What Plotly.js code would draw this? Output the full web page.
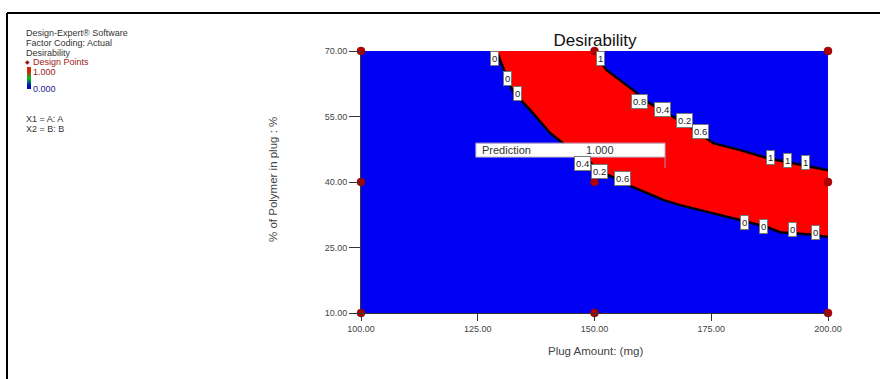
<!DOCTYPE html>
<html>
<head>
<meta charset="utf-8">
<script src="https://cdn.plot.ly/plotly-3.0.1.min.js"></script>
<style>
html,body{margin:0;padding:0;background:#fff;}
#chart{width:880px;height:379px;}
</style>
</head>
<body>
<div id="chart"></div>
<script>
// ---- data ----
const designX = [100, 150, 200, 100, 150, 200, 100, 150, 200];
const designY = [70, 70, 70, 40, 40, 40, 10, 10, 10];

// lower edge of the desirable (red) band
const lowerX = [129.1, 129.8, 132.5, 136.2, 140.5, 143.7, 147.5, 151.2, 154.0, 157.6, 161.2, 164.7, 168.3, 175.4, 181.2, 186.9, 189.7, 196.8, 200];
const lowerY = [70, 67.9, 60.7, 56.5, 51.2, 48.5, 46.2, 42.3, 41.1, 39.1, 37.5, 35.9, 34.7, 32.9, 31.3, 29.7, 28.5, 27.9, 27.4];

// upper edge of the desirable (red) band
const upperX = [150.7, 151.5, 152.6, 154.0, 156.1, 158.7, 161.2, 165.5, 170.4, 175.4, 181.2, 186.9, 192.5, 196.8, 200];
const upperY = [70, 67.2, 65.6, 64.5, 62.7, 60.7, 58.4, 55.8, 52.7, 48.9, 47.3, 45.5, 44.4, 43.4, 42.7];

// contour labels
const labelText = ["0", "0", "0", "0.4", "0.2", "0.6", "0", "0", "0", "0", "1", "0.8", "0.4", "0.2", "0.6", "1", "1", "1"];
const labelX = [128.5, 131.3, 133.6, 147.5, 151.0, 155.9, 182.2, 186.1, 192.3, 197.4, 151.2, 159.7, 164.5, 169.2, 172.6, 187.6, 191.4, 195.1];
const labelY = [68.2, 63.8, 60.2, 44.2, 42.5, 40.9, 30.8, 29.9, 29.2, 28.5, 68.2, 58.5, 56.5, 54.0, 51.5, 45.7, 45.0, 44.4];

const xTicks = [100, 125, 150, 175, 200];
const yTicks = [10, 25, 40, 55, 70];

const predictionX = 165.1;
const predictionY = 43.2;
const predictionValue = "1.000";

const legendLines = ["Design-Expert\u00ae Software", "Factor Coding: Actual", "Desirability"];
const factorLines = ["X1 = A: A", "X2 = B: B"];

// ---- helpers: pixel -> paper (margins are zero) ----
const W = 880, H = 379;
const px = v => v / W;
const py = v => 1 - v / H;
const FONT = "Liberation Sans, Arial, sans-serif";

const bandX = lowerX.concat(upperX.slice().reverse());
const bandY = lowerY.concat(upperY.slice().reverse());

const traces = [
  {
    type: "scatter", mode: "lines", x: bandX, y: bandY,
    fill: "toself", fillcolor: "#FF0000", line: {width: 0},
    hoverinfo: "skip", showlegend: false
  },
  {
    type: "scatter", mode: "lines", x: lowerX, y: lowerY,
    line: {color: "#000000", width: 2.5}, showlegend: false, hoverinfo: "skip"
  },
  {
    type: "scatter", mode: "lines", x: upperX, y: upperY,
    line: {color: "#000000", width: 2.5}, showlegend: false, hoverinfo: "skip"
  },
  {
    type: "scatter", mode: "markers", x: designX, y: designY,
    marker: {symbol: "circle", size: 8, color: "#B00000", line: {color: "#800000", width: 0.5}},
    cliponaxis: false, showlegend: false
  },
  {
    type: "heatmap", xaxis: "x2", yaxis: "y2",
    z: [[0], [0.5], [1]], x: [0], y: [0, 1, 2],
    colorscale: [[0, "#0010B8"], [0.5, "#00C020"], [1, "#D02800"]],
    zsmooth: "best", showscale: false, hoverinfo: "skip"
  }
];

const annotations = [];
labelText.forEach((t, i) => {
  annotations.push({
    x: labelX[i], y: labelY[i], xref: "x", yref: "y", text: t, showarrow: false,
    font: {family: FONT, size: 9.5, color: "#222"},
    bgcolor: "#FFFFFF", bordercolor: "#777", borderwidth: 1, borderpad: 1
  });
});
legendLines.forEach((t, i) => {
  annotations.push({
    x: px(24), y: py(33.5 + i * 9.5), xref: "paper", yref: "paper", text: t,
    showarrow: false, xanchor: "left", yanchor: "middle",
    font: {family: FONT, size: 9, color: "#333"}
  });
});
annotations.push({x: px(27), y: py(62), xref: "paper", yref: "paper", text: "\u25c6", showarrow: false,
  xanchor: "center", yanchor: "middle", font: {family: "DejaVu Sans", size: 6, color: "#A01010"}});
annotations.push({x: px(31), y: py(62), xref: "paper", yref: "paper", text: "Design Points", showarrow: false,
  xanchor: "left", yanchor: "middle", font: {family: FONT, size: 9, color: "#A02020"}});
annotations.push({x: px(31), y: py(71.5), xref: "paper", yref: "paper", text: "1.000", showarrow: false,
  xanchor: "left", yanchor: "middle", font: {family: FONT, size: 9, color: "#A02020"}});
annotations.push({x: px(31), y: py(89), xref: "paper", yref: "paper", text: "0.000", showarrow: false,
  xanchor: "left", yanchor: "middle", font: {family: FONT, size: 9, color: "#202090"}});
factorLines.forEach((t, i) => {
  annotations.push({
    x: px(24), y: py(119 + i * 9.5), xref: "paper", yref: "paper", text: t,
    showarrow: false, xanchor: "left", yanchor: "middle",
    font: {family: FONT, size: 9, color: "#333"}
  });
});
// axis titles
annotations.push({x: px(595), y: py(351), xref: "paper", yref: "paper", text: "Plug Amount: (mg)",
  showarrow: false, xanchor: "center", yanchor: "middle", font: {family: FONT, size: 11.5, color: "#444"}});
annotations.push({x: px(273), y: py(180), xref: "paper", yref: "paper", text: "% of Polymer in plug : %",
  showarrow: false, textangle: -90, xanchor: "center", yanchor: "middle", font: {family: FONT, size: 11.5, color: "#444"}});
// prediction flag text
annotations.push({x: 125.5, y: 47.3, xref: "x", yref: "y", text: "Prediction", showarrow: false,
  xanchor: "left", yanchor: "middle", font: {family: FONT, size: 11, color: "#333"}});
annotations.push({x: 147.8, y: 47.3, xref: "x", yref: "y", text: predictionValue, showarrow: false,
  xanchor: "left", yanchor: "middle", font: {family: FONT, size: 11, color: "#333"}});

const shapes = [
  // outer frame (top and left)
  {type: "line", xref: "paper", yref: "paper", x0: px(7), x1: 1, y0: py(13), y1: py(13), line: {color: "#000", width: 2}},
  {type: "line", xref: "paper", yref: "paper", x0: px(7), x1: px(7), y0: py(13), y1: 0, line: {color: "#000", width: 2}},
  // prediction box + flag pole
  {type: "rect", xref: "x", yref: "y", x0: 124.6, x1: predictionX, y0: 45.7, y1: 48.9,
   fillcolor: "#FFFFFF", line: {color: "#B8A8C8", width: 1}, layer: "above"},
  {type: "line", xref: "x", yref: "y", x0: predictionX, x1: predictionX, y0: 45.7, y1: predictionY,
   line: {color: "#B090C0", width: 1}, layer: "above"}
];

const layout = {
  width: W, height: H,
  margin: {l: 0, r: 0, t: 0, b: 0, pad: 0},
  paper_bgcolor: "#FFFFFF",
  plot_bgcolor: "#0000F4",
  showlegend: false,
  title: {text: "Desirability", x: px(595), xanchor: "center", xref: "paper", y: py(40), yanchor: "middle", yref: "container",
          font: {family: FONT, size: 17, color: "#111"}},
  xaxis: {
    domain: [px(361), px(828)], range: [100, 200], tickvals: xTicks, tickformat: ".2f",
    ticks: "outside", ticklen: 7, tickcolor: "#333", tickwidth: 1,
    showgrid: false, zeroline: false, showline: true, linecolor: "#333", linewidth: 1,
    tickfont: {family: FONT, size: 9, color: "#444"}, fixedrange: true
  },
  yaxis: {
    domain: [py(313), py(51)], range: [10, 70], tickvals: yTicks, tickformat: ".2f",
    ticks: "outside", ticklen: 11, tickcolor: "#333", tickwidth: 1,
    showgrid: false, zeroline: false, showline: true, linecolor: "#333", linewidth: 1,
    tickfont: {family: FONT, size: 9, color: "#444"}, fixedrange: true
  },
  xaxis2: {domain: [px(27), px(31)], anchor: "y2", visible: false, fixedrange: true},
  yaxis2: {domain: [py(89), py(67)], anchor: "x2", visible: false, fixedrange: true},
  annotations: annotations,
  shapes: shapes
};

Plotly.newPlot("chart", traces, layout, {displayModeBar: false, staticPlot: true});
</script>
</body>
</html>
